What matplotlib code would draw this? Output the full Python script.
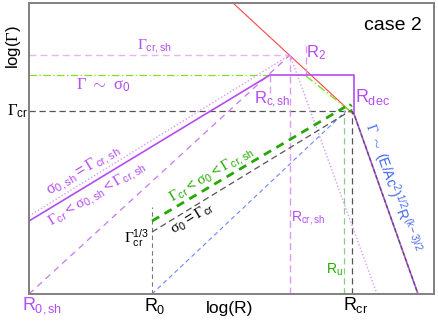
import numpy as np
import matplotlib
matplotlib.use("Agg")
import matplotlib.pyplot as plt

plt.rcParams['mathtext.fontset'] = 'custom'
plt.rcParams['mathtext.rm'] = 'Liberation Sans'
plt.rcParams['mathtext.it'] = 'Liberation Sans'
plt.rcParams['mathtext.sf'] = 'Liberation Sans'
plt.rcParams['mathtext.cal'] = 'Liberation Serif'
plt.rcParams['font.family'] = ['Liberation Sans', 'DejaVu Sans']

# ---- schematic positions in log-space (arbitrary units) ----
# characteristic radii, log(R)
logR_0sh = 0
logR_0 = 123
logR_csh = 241
logR_crsh = 261
logR_2 = 277
logR_u = 315
logR_cr = 323
logR_dec = 325
logR_end = 389
logR_dotend = 348
# characteristic Lorentz factors, log(Gamma)
logG_crsh = 239
logG_sig = 219
logG_cr = 183
logG_dec_low = 180
logG_start_solid = 73
logG_start_dot = 78
logG_R0_black = 62
logG_R0_green = 73
logG_R0_top = 87
# red line end points
red_x = [204, 323]
red_y = [291, 181]
# green dash-dot along the red line
gdd_x = [277, 321]
gdd_y = [218, 183]
# end points of the lines starting at R0
green_end = [316, 187]
blue_end = [316, 182]
black_end = [321, 183]

XMAX, YMAX = 405, 291

fig = plt.figure(figsize=(4.39, 3.22), dpi=100)
ax = fig.add_axes([29/439, 28/322, 405/439, 291/322])
ax.set_xlim(0, XMAX)
ax.set_ylim(0, YMAX)
ax.set_xticks([]); ax.set_yticks([])
for s in ax.spines.values():
    s.set_color('#808080'); s.set_linewidth(1.4)

MAG = '#b44cf0'
PINK = '#dd99f5'
LPINK = '#e8b4f8'
GRAY = '#555555'
BLUE = '#6a88ff'
GREEN = '#22aa00'
YG = '#88dd22'
LGREEN = '#88cc88'
RED = '#ff4444'

# horizontal lines
ax.plot([0, logR_crsh], [logG_crsh]*2, color=LPINK, lw=1.0, dashes=(5, 3))
ax.plot([0, logR_csh], [logG_sig]*2, color=YG, lw=0.9, dashes=(6, 2, 1, 2))
ax.plot([0, logR_cr], [logG_cr]*2, color=GRAY, lw=0.9, dashes=(5, 3))
# red line and green dash-dot along it
ax.plot(red_x, red_y, color=RED, lw=0.8)
ax.plot(gdd_x, gdd_y, color=YG, lw=1.0, dashes=(6, 2, 1, 2))
# vertical lines
ax.plot([logR_crsh]*2, [0, logG_crsh], color=PINK, lw=1.0, dashes=(5, 3))
ax.plot([logR_2]*2, [logG_sig, 251], color=PINK, lw=1.0, dashes=(5, 3))
ax.plot([logR_csh]*2, [logG_sig, 201], color=PINK, lw=1.0, dashes=(5, 3))
ax.plot([logR_u]*2, [0, 184], color=LGREEN, lw=0.9, dashes=(5, 3))
ax.plot([logR_cr]*2, [0, logG_cr], color=GRAY, lw=0.9, dashes=(5, 3))
ax.plot([logR_0]*2, [0, logG_R0_top], color='#777777', lw=0.8, dashes=(4, 3))
# lines from R0,sh
ax.plot([0, logR_crsh], [logG_start_dot, logG_crsh], color=PINK, lw=1.0, ls=(0, (1, 1.5)))
ax.plot([0, logR_crsh], [0, logG_crsh], color='#c878f0', lw=0.9, dashes=(5, 4))
ax.plot([logR_crsh, logR_dotend], [logG_crsh, 0], color=PINK, lw=1.0, ls=(0, (1, 1.5)))
# lines from R0
ax.plot([logR_0, blue_end[0]], [0, blue_end[1]], color=BLUE, lw=0.8, dashes=(4, 3))
ax.plot([logR_0, black_end[0]], [logG_R0_black, black_end[1]], color=GRAY, lw=0.9, dashes=(5, 3))
ax.plot([logR_0, green_end[0]], [logG_R0_green, green_end[1]], color=GREEN, lw=2.0, dashes=(3, 2.2))
th = np.linspace(0.4*np.pi, -0.6*np.pi, 12)
ax.plot(319 + 4*np.cos(th), 186 + 4*np.sin(th), color=GREEN, lw=1.3, dashes=(2, 1.5))
# main solid magenta path
ax.plot([0, logR_csh, logR_dec, logR_dec, logR_end],
        [logG_start_solid, logG_sig, logG_sig, logG_dec_low, 0], color=MAG, lw=1.2)
ax.plot([logR_cr, logR_dec, logR_end], [logG_cr, logG_dec_low, 0],
        color='#555555', lw=0.9, dashes=(3, 2))

def ang(x0, y0, x1, y1):
    return np.degrees(np.arctan2(y1 - y0, x1 - x0))

a_solid = ang(0, logG_start_solid, logR_csh, logG_sig)
a_green = ang(logR_0, logG_R0_green, *green_end)
a_black = ang(logR_0, logG_R0_black, *black_end)
a_steep = ang(logR_dec, logG_dec_low, logR_end, 0)

G = r'\mathcal{\Gamma}'
S = r'\mathcal{\sigma}'
kw = dict(ha='center', va='center', clip_on=False)

ax.text(364, 269, 'case 2', fontsize=14, **kw)
ax.text(-15, 247, r'log($' + G + r'$)', fontsize=12, rotation=90, **kw)
ax.text(-1, 183, r'$' + G + r'_{\rm cr}$', fontsize=12, ha='right', va='center', clip_on=False)
ax.text(201, -15, 'log(R)', fontsize=12.5, **kw)
ax.text(13, -12, r'$R_{0,sh}$', fontsize=13, color=MAG, **kw)
ax.text(126, -12, r'$R_0$', fontsize=13, **kw)
ax.text(327, -11, r'$R_{cr}$', fontsize=13, **kw)

ax.text(126, 248, r'$' + G + r'_{cr,sh}$', fontsize=11, color=MAG, **kw)
ax.text(74, 209, r'$' + G + r'\ \sim\ ' + S + r'_0$', fontsize=12, color=MAG, **kw)
ax.text(287, 241, r'$R_2$', fontsize=12, color=MAG, **kw)
ax.text(343, 197, r'$R_{dec}$', fontsize=13, color=MAG, **kw)
ax.text(243, 194, r'$R_{c,sh}$', fontsize=12, color=MAG, **kw)
ax.text(279, 76, r'$R_{cr,sh}$', fontsize=10, color=MAG, **kw)
ax.text(305, 24, r'$R_u$', fontsize=10, color=GREEN, **kw)
ax.text(108, 56, r'$' + G + r'_{cr}^{1/3}$', fontsize=11, **kw)

ax.text(55, 123, r'$' + S + r'_{0,sh}=' + G + r'_{cr,sh}$', fontsize=11.5, color=MAG,
        rotation=a_solid, rotation_mode='anchor', **kw)
ax.text(68, 100, r'$' + G + r'_{cr}<' + S + r'_{0,sh}<' + G + r'_{cr,sh}$', fontsize=11, color=MAG,
        rotation=a_solid, rotation_mode='anchor', **kw)
ax.text(183, 119, r'$' + G + r'_{cr}<' + S + r'_0<' + G + r'_{cr,sh}$', fontsize=11, color=GREEN,
        rotation=a_green, rotation_mode='anchor', **kw)
ax.text(163, 76, r'$' + S + r'_0=' + G + r'_{cr}$', fontsize=11, color='black',
        rotation=a_black, rotation_mode='anchor', **kw)
ax.text(364, 106, r'$' + G + r'\ \sim\ (E/Ac^2)^{1/2}R^{(k-3)/2}$', fontsize=10, color='#4466ee',
        rotation=a_steep, rotation_mode='anchor', **kw)

fig.savefig('out.png', dpi=100)
